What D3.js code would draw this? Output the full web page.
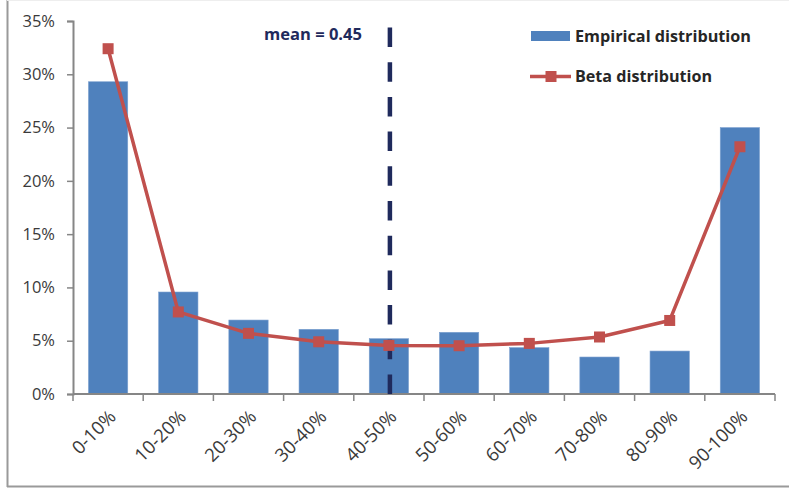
<!DOCTYPE html>
<html><head><meta charset="utf-8">
<script src="https://cdn.jsdelivr.net/npm/d3@7"></script>
<style>html,body{margin:0;padding:0;background:#fff;}svg{display:block;}</style>
</head><body>
<svg id="c" width="789" height="489"></svg>
<script>
const categories = ["0-10%","10-20%","20-30%","30-40%","40-50%","50-60%","60-70%","70-80%","80-90%","90-100%"];
const empirical = [0.293, 0.0957, 0.0694, 0.0607, 0.0519, 0.0579, 0.0435, 0.0347, 0.0403, 0.250];
const beta = [0.324, 0.077, 0.0569, 0.049, 0.0456, 0.0453, 0.0475, 0.0535, 0.069, 0.232];
const yTicks = [0, 0.05, 0.10, 0.15, 0.20, 0.25, 0.30, 0.35];
const meanValue = 0.45;
const seriesNames = ["Empirical distribution", "Beta distribution"];

const svg = d3.select("#c");
const font = "'Open Sans', sans-serif";
const axisCol = "#868686";

// frame
svg.append("line").attr("x1",7.5).attr("x2",7.5).attr("y1",0).attr("y2",487).attr("stroke","#9a9a9a").attr("stroke-width",2);
svg.append("line").attr("x1",7).attr("x2",789).attr("y1",486.5).attr("y2",486.5).attr("stroke","#9a9a9a").attr("stroke-width",2);
svg.append("line").attr("x1",7).attr("x2",789).attr("y1",0.5).attr("y2",0.5).attr("stroke","#eeeeee").attr("stroke-width",1);

const x = d3.scaleBand().domain(categories).range([73, 775]).paddingInner(0.44).paddingOuter(0.22);
const xl = d3.scaleLinear().domain([0,1]).range([73, 775]);
const y = d3.scaleLinear().domain([0, 0.35]).range([394, 21]);

// bars
svg.append("g").selectAll("rect").data(empirical).join("rect")
  .attr("x",(d,i)=>x(categories[i]))
  .attr("width",x.bandwidth())
  .attr("y",d=>y(d))
  .attr("height",d=>y(0)-y(d))
  .attr("fill","#4F81BD")
  .attr("stroke","#7DA1D0").attr("stroke-width",0.6);

// y axis
const yAxis = d3.axisLeft(y).tickValues(yTicks).tickFormat(d3.format(".0%")).tickSize(6).tickPadding(12);
const gy = svg.append("g").attr("transform","translate(73,0)").call(yAxis);
gy.select(".domain").attr("stroke",axisCol).attr("stroke-width",2);
gy.selectAll(".tick line").attr("stroke",axisCol).attr("stroke-width",1.5);
gy.selectAll(".tick text").attr("font-family",font).attr("font-size","16.5px").attr("fill","#3a3a3a");

// x axis
const boundaries = d3.range(0, 11).map(i => i/10);
const gx = svg.append("g").attr("transform","translate(0,394)");
gx.append("line").attr("x1",xl(0)).attr("x2",xl(1)).attr("stroke",axisCol).attr("stroke-width",2);
gx.selectAll(".bt").data(boundaries).join("line").attr("class","bt")
  .attr("x1",d=>xl(d)).attr("x2",d=>xl(d)).attr("y1",0).attr("y2",7)
  .attr("stroke",axisCol).attr("stroke-width",1.5);
gx.selectAll("text").data(categories).join("text")
  .attr("transform",d=>`translate(${x(d)+x.bandwidth()/2+9},${24}) rotate(-45)`)
  .attr("text-anchor","end")
  .attr("font-family",font).attr("font-size","18.5px").attr("fill","#3a3a3a")
  .text(d=>d);

// mean line
svg.append("line").attr("x1",xl(meanValue)+1).attr("x2",xl(meanValue)+1).attr("y1",y(0)).attr("y2",22)
  .attr("stroke","#1F2A5C").attr("stroke-width",4.5).attr("stroke-dasharray","19.5,15.2");
svg.append("text").attr("x",264).attr("y",40).attr("font-family",font).attr("font-weight","bold")
  .attr("font-size","15.5px").attr("fill","#1F2A5C").attr("textLength",98).attr("lengthAdjust","spacingAndGlyphs")
  .text("mean = " + meanValue.toFixed(2));

// beta line
const cx = (d,i)=>x(categories[i])+x.bandwidth()/2;
svg.append("path").datum(beta)
  .attr("d", d3.line().x(cx).y(d=>y(d)))
  .attr("fill","none").attr("stroke","#C0504D").attr("stroke-width",3.5).attr("stroke-linejoin","round");
svg.append("g").selectAll("rect").data(beta).join("rect")
  .attr("x",(d,i)=>cx(d,i)-5.5).attr("y",d=>y(d)-5.5)
  .attr("width",11).attr("height",11).attr("fill","#C0504D");

// legend
const lg = svg.append("g");
lg.append("rect").attr("x",531).attr("y",31).attr("width",39).attr("height",10).attr("fill","#4F81BD");
lg.append("text").attr("x",575).attr("y",42).attr("font-family",font).attr("font-weight","bold")
  .attr("font-size","16.5px").attr("fill","#262626").attr("textLength",176).attr("lengthAdjust","spacingAndGlyphs")
  .text(seriesNames[0]);
lg.append("line").attr("x1",530).attr("x2",571).attr("y1",76.5).attr("y2",76.5).attr("stroke","#C0504D").attr("stroke-width",3.5);
lg.append("rect").attr("x",545.5).attr("y",71).attr("width",11).attr("height",11).attr("fill","#C0504D");
lg.append("text").attr("x",575).attr("y",82).attr("font-family",font).attr("font-weight","bold")
  .attr("font-size","16.5px").attr("fill","#262626").attr("textLength",137).attr("lengthAdjust","spacingAndGlyphs")
  .text(seriesNames[1]);
</script>
</body></html>
